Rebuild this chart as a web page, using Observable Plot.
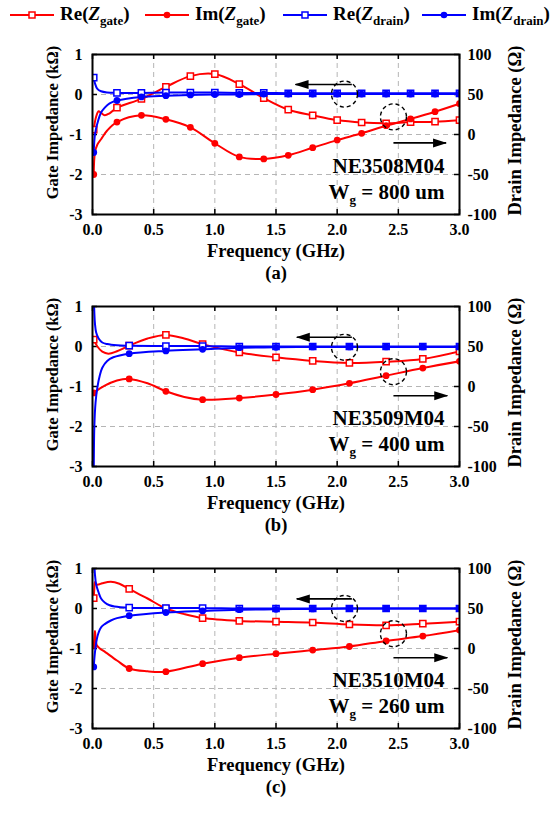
<!DOCTYPE html>
<html>
<head>
<meta charset="utf-8">
<script src="https://cdn.jsdelivr.net/npm/d3@7"></script>
<script src="https://cdn.jsdelivr.net/npm/@observablehq/plot@0.6"></script>
<style>
  html, body { margin: 0; padding: 0; background: #fff; }
  body { width: 554px; height: 813px; position: relative; overflow: hidden;
         font-family: "Liberation Serif", "Liberation Sans", Arial, sans-serif; font-weight: bold; color: #000; }
  #legend { position: absolute; top: 0; left: 0; width: 554px; height: 30px; }
  .item { position: absolute; top: 3px; height: 24px; display: flex; align-items: center; white-space: nowrap; }
  .item svg { display: block; flex: none; }
  .item .txt { font-size: 19px; line-height: 24px; margin-left: 6px; }
  .item .z { font-style: italic; }
  .item .sub { font-size: 13px; position: relative; top: 5px; }
</style>
</head>
<body>
<div id="legend"></div>
<script>
// ---------------- data (left-axis units) ----------------
const xTicks = [0, 0.5, 1, 1.5, 2, 2.5, 3];
const xGrid = [0.5, 1, 1.5, 2, 2.5];
const yTicks = [-3, -2, -1, 0, 1];
const yGrid = [-2, -1, 0];

const seriesNames = ["Re", "Im", "Re", "Im"];
const seriesSubs = ["gate", "gate", "drain", "drain"];
const RED = "#ff0000", BLUE = "#0000ff";

// Panel (a) NE3508M04
const aMarkers = [0.01, 0.2, 0.4, 0.6, 0.8, 1.0, 1.2, 1.4, 1.6, 1.8, 2.0, 2.2, 2.4, 2.6, 2.8, 3.0];
const aReGate = [[0.01,-0.88],[0.03,-0.55],[0.05,-0.42],[0.07,-0.46],[0.1,-0.52],[0.14,-0.47],[0.2,-0.33],[0.4,-0.11],[0.6,0.19],[0.8,0.46],[1.0,0.51],[1.2,0.26],[1.4,-0.09],[1.6,-0.38],[1.8,-0.52],[2.0,-0.64],[2.2,-0.70],[2.4,-0.72],[2.6,-0.69],[2.8,-0.68],[3.0,-0.64]];
const aImGate = [[0.01,-2.0],[0.02,-1.45],[0.04,-1.25],[0.07,-1.12],[0.12,-0.9],[0.2,-0.69],[0.4,-0.52],[0.6,-0.62],[0.8,-0.82],[1.0,-1.22],[1.2,-1.56],[1.4,-1.61],[1.6,-1.52],[1.8,-1.33],[2.0,-1.14],[2.2,-0.97],[2.4,-0.78],[2.6,-0.61],[2.8,-0.43],[3.0,-0.23]];
const aReDrain = [[0.01,0.42],[0.02,0.28],[0.04,0.14],[0.07,0.08],[0.12,0.05],[0.2,0.04],[0.4,0.04],[0.6,0.05],[0.8,0.05],[1.0,0.05],[1.2,0.04],[1.4,0.04],[1.6,0.03],[1.8,0.03],[2.0,0.03],[2.2,0.03],[2.4,0.03],[2.6,0.03],[2.8,0.03],[3.0,0.03]];
const aImDrain = [[0.01,-1.45],[0.02,-1.0],[0.04,-0.72],[0.07,-0.45],[0.1,-0.33],[0.14,-0.22],[0.2,-0.15],[0.4,-0.06],[0.6,-0.03],[0.8,-0.01],[1.0,0.0],[1.2,0.0],[1.4,0.01],[1.6,0.01],[1.8,0.01],[2.0,0.01],[2.2,0.01],[2.4,0.01],[2.6,0.01],[2.8,0.01],[3.0,0.01]];
const aCircles = [[2.06, 0.01], [2.46, -0.56]];
const aArrows = [[2.12, 0.25, 1.66, 0.25], [2.46, -1.21, 2.89, -1.21]];
const aNote = ["NE3508M04", "Wg = 800 um"];

// Panel (b) NE3509M04
const bMarkers = [0.01, 0.3, 0.6, 0.9, 1.2, 1.5, 1.8, 2.1, 2.4, 2.7, 3.0];
const bReGate = [[0.01,0.17],[0.04,0.0],[0.08,-0.13],[0.13,-0.18],[0.2,-0.12],[0.3,0.02],[0.45,0.2],[0.6,0.29],[0.75,0.2],[0.9,0.06],[1.2,-0.15],[1.5,-0.27],[1.8,-0.36],[2.1,-0.41],[2.4,-0.38],[2.7,-0.31],[3.0,-0.12]];
const bImGate = [[0.01,-1.16],[0.1,-0.98],[0.2,-0.85],[0.3,-0.81],[0.45,-0.92],[0.6,-1.12],[0.75,-1.26],[0.9,-1.33],[1.2,-1.29],[1.5,-1.2],[1.8,-1.08],[2.1,-0.92],[2.4,-0.73],[2.7,-0.54],[3.0,-0.37]];
const bReDrain = [[0.01,1.4],[0.015,0.85],[0.02,0.57],[0.03,0.35],[0.05,0.2],[0.08,0.1],[0.12,0.06],[0.2,0.03],[0.3,0.02],[0.6,0.01],[0.9,0.01],[1.2,0.0],[1.5,0.0],[1.8,0.0],[2.1,0.0],[2.4,0.0],[2.7,0.0],[3.0,0.0]];
const bImDrain = [[0.01,-3.3],[0.015,-2.0],[0.025,-1.4],[0.04,-1.02],[0.06,-0.72],[0.08,-0.53],[0.12,-0.36],[0.17,-0.27],[0.3,-0.18],[0.6,-0.11],[0.9,-0.07],[1.2,-0.03],[1.5,-0.02],[1.8,-0.01],[2.1,-0.01],[2.4,-0.01],[2.7,-0.01],[3.0,-0.01]];
const bCircles = [[2.06, -0.02], [2.46, -0.63]];
const bArrows = [[2.12, 0.23, 1.67, 0.23], [2.46, -1.23, 2.9, -1.23]];
const bNote = ["NE3509M04", "Wg = 400 um"];

// Panel (c) NE3510M04
const cMarkers = [0.01, 0.3, 0.6, 0.9, 1.2, 1.5, 1.8, 2.1, 2.4, 2.7, 3.0];
const cReGate = [[0.01,0.26],[0.015,0.5],[0.02,0.66],[0.03,0.6],[0.05,0.6],[0.08,0.63],[0.15,0.67],[0.22,0.62],[0.3,0.49],[0.45,0.25],[0.6,0.0],[0.75,-0.14],[0.9,-0.24],[1.2,-0.31],[1.5,-0.33],[1.8,-0.35],[2.1,-0.40],[2.4,-0.42],[2.7,-0.38],[3.0,-0.33]];
const cImGate = [[0.01,-0.92],[0.015,-0.75],[0.02,-0.56],[0.025,-0.72],[0.035,-0.92],[0.06,-1.0],[0.09,-1.06],[0.2,-1.3],[0.3,-1.5],[0.45,-1.57],[0.6,-1.58],[0.9,-1.38],[1.2,-1.23],[1.5,-1.13],[1.8,-1.04],[2.1,-0.95],[2.4,-0.81],[2.7,-0.69],[3.0,-0.54]];
const cReDrain = [[0.01,1.5],[0.02,0.85],[0.03,0.6],[0.05,0.4],[0.07,0.25],[0.1,0.15],[0.14,0.08],[0.18,0.05],[0.3,0.02],[0.6,0.01],[0.9,0.01],[1.2,0.0],[1.5,0.0],[1.8,0.0],[2.1,0.0],[2.4,0.0],[2.7,0.0],[3.0,0.0]];
const cImDrain = [[0.01,-1.46],[0.02,-1.1],[0.035,-0.77],[0.05,-0.6],[0.07,-0.47],[0.1,-0.39],[0.15,-0.3],[0.2,-0.24],[0.3,-0.18],[0.6,-0.1],[0.9,-0.06],[1.2,-0.03],[1.5,-0.02],[1.8,-0.01],[2.1,0.0],[2.4,0.0],[2.7,0.0],[3.0,0.0]];
const cCircles = [[2.06, 0.0], [2.46, -0.63]];
const cArrows = [[2.12, 0.24, 1.67, 0.24], [2.46, -1.23, 2.9, -1.23]];
const cNote = ["NE3510M04", "Wg = 260 um"];

// ---------------- legend ----------------
const legend = document.getElementById("legend");
const legendLeft = [10, 145, 283, 422];
const legendColor = [RED, RED, BLUE, BLUE];
const legendSym = ["square", "circle", "square", "circle"];
seriesNames.forEach((nm, i) => {
  const it = document.createElement("div");
  it.className = "item";
  it.style.left = legendLeft[i] + "px";
  const c = legendColor[i];
  const sym = legendSym[i] === "square"
    ? `<rect x="19" y="9" width="6" height="6" fill="white" stroke="${c}" stroke-width="1.5"/>`
    : `<circle cx="22" cy="12" r="3.3" fill="${c}"/>`;
  it.innerHTML = `<svg width="44" height="24"><line x1="0" x2="44" y1="12" y2="12" stroke="${c}" stroke-width="2"/>${sym}</svg>` +
    `<span class="txt">${nm}(<span class="z">Z</span><span class="sub">${seriesSubs[i]}</span>)</span>`;
  legend.appendChild(it);
});

// ---------------- panels ----------------
function arrowHead(color, context) {
  const doc = (context && context.document) || document;
  const ns = "http://www.w3.org/2000/svg";
  const m = doc.createElementNS(ns, "marker");
  m.setAttribute("viewBox", "-13 -5 14 10");
  m.setAttribute("markerWidth", "14");
  m.setAttribute("markerHeight", "10");
  m.setAttribute("markerUnits", "userSpaceOnUse");
  m.setAttribute("orient", "auto");
  m.setAttribute("refX", "0");
  m.setAttribute("refY", "0");
  const p = doc.createElementNS(ns, "path");
  p.setAttribute("d", "M-13,-4.5L1,0L-13,4.5Z");
  p.setAttribute("fill", color);
  p.setAttribute("stroke", "none");
  m.appendChild(p);
  return m;
}

const W = 554, ML = 92, MR = 95, MT = 20, FH = 160, MB = 81;
const FW = W - ML - MR;
const FONT = "'Liberation Serif', 'Liberation Sans', Arial, sans-serif";

function panel(cfg) {
  const sel = s => s.filter(d => cfg.markers.some(m => Math.abs(m - d[0]) < 1e-9));
  const X = d => d[0], Y = d => d[1];
  const line = (data, color) => Plot.line(data, {x: X, y: Y, stroke: color, strokeWidth: 2, curve: "catmull-rom", clip: true});
  const sq = (data, color) => Plot.dot(sel(data), {x: X, y: Y, symbol: "square", r: 3.5, stroke: color, fill: "white", strokeWidth: 1.5, clip: true});
  const ci = (data, color) => Plot.dot(sel(data), {x: X, y: Y, symbol: "circle", r: 3.4, fill: color, stroke: "none", clip: true});
  const txt = {fontFamily: FONT, fontWeight: "bold", fill: "black"};
  const svg = Plot.plot({
    width: W, height: MT + FH + MB,
    marginLeft: ML, marginRight: MR, marginTop: MT, marginBottom: MB,
    x: {domain: [0, 3]},
    y: {domain: [-3, 1]},
    style: {background: "white", overflow: "visible", fontFamily: FONT},
    marks: [
      Plot.gridX({ticks: xGrid, stroke: "#b5b5b5", strokeOpacity: 1, strokeWidth: 1, strokeDasharray: "5,4"}),
      Plot.gridY({ticks: yGrid, stroke: "#b5b5b5", strokeOpacity: 1, strokeWidth: 1, strokeDasharray: "5,4"}),
      // inward ticks on all four sides
      Plot.tickX(xTicks, {x: d => d, stroke: "black", strokeWidth: 1.5, insetTop: FH - 5}),
      Plot.tickX(xTicks, {x: d => d, stroke: "black", strokeWidth: 1.5, insetBottom: FH - 5}),
      Plot.tickY(yTicks, {y: d => d, stroke: "black", strokeWidth: 1.5, insetRight: FW - 5}),
      Plot.tickY(yTicks, {y: d => d, stroke: "black", strokeWidth: 1.5, insetLeft: FW - 5}),
      line(cfg.reGate, RED), sq(cfg.reGate, RED),
      line(cfg.imGate, RED), ci(cfg.imGate, RED),
      line(cfg.reDrain, BLUE), sq(cfg.reDrain, BLUE),
      line(cfg.imDrain, BLUE), ci(cfg.imDrain, BLUE),
      Plot.dot(cfg.circles, {x: X, y: Y, r: 13, stroke: "black", fill: "none", strokeWidth: 1.4, strokeDasharray: "4,3"}),
      Plot.link(cfg.arrows, {x1: d => d[0], y1: d => d[1], x2: d => d[2], y2: d => d[3], stroke: "black", strokeWidth: 1.6, markerEnd: arrowHead}),
      Plot.text([cfg.note[0]], {...txt, frameAnchor: "bottom-right", textAnchor: "end", lineAnchor: "middle", dx: -15, dy: -48, fontSize: 21}),
      Plot.text([cfg.note[1]], {...txt, frameAnchor: "bottom-right", textAnchor: "end", lineAnchor: "middle", dx: -15, dy: -22, fontSize: 21}),
      Plot.frame({stroke: "black", strokeWidth: 2}),
      Plot.axisX({ticks: xTicks, anchor: "bottom", tickSize: 0, tickPadding: 9, tickFormat: d3.format(".1f"), label: null, ...txt, fontSize: 16}),
      Plot.axisY({ticks: yTicks, anchor: "left", tickSize: 0, tickPadding: 10, tickFormat: d => String(d), label: null, ...txt, fontSize: 16}),
      Plot.axisY({ticks: yTicks, anchor: "right", tickSize: 0, tickPadding: 8, tickFormat: d => String(50 * (d + 1)), label: null, ...txt, fontSize: 16}),
      Plot.text(["Gate Impedance (kΩ)"], {...txt, frameAnchor: "left", textAnchor: "middle", lineAnchor: "middle", rotate: -90, dx: -40, dy: -12, fontSize: 16.5}),
      Plot.text(["Drain Impedance (Ω)"], {...txt, frameAnchor: "right", textAnchor: "middle", lineAnchor: "middle", rotate: -90, dx: 56, dy: -4, fontSize: 18.5}),
      Plot.text(["Frequency (GHz)"], {...txt, frameAnchor: "bottom", textAnchor: "middle", lineAnchor: "middle", dy: 37, fontSize: 18.5}),
      Plot.text([cfg.caption], {...txt, frameAnchor: "bottom", textAnchor: "middle", lineAnchor: "middle", dy: 59, fontSize: 18.5})
    ]
  });
  // subscript g in "Wg"
  const ns = "http://www.w3.org/2000/svg";
  svg.querySelectorAll("text").forEach(t => {
    if (t.childElementCount === 0 && /^Wg /.test(t.textContent)) {
      const rest = t.textContent.slice(2);
      t.textContent = "";
      const a = document.createElementNS(ns, "tspan"); a.textContent = "W";
      const b = document.createElementNS(ns, "tspan"); b.textContent = "g"; b.setAttribute("font-size", "13"); b.setAttribute("dy", "5");
      const c = document.createElementNS(ns, "tspan"); c.textContent = rest; c.setAttribute("dy", "-5");
      t.append(a, b, c);
    }
  });
  svg.style.position = "absolute";
  svg.style.left = "0px";
  svg.style.top = cfg.top + "px";
  document.body.appendChild(svg);
}

panel({top: 34, markers: aMarkers, reGate: aReGate, imGate: aImGate, reDrain: aReDrain, imDrain: aImDrain, circles: aCircles, arrows: aArrows, note: aNote, caption: "(a)"});
panel({top: 286, markers: bMarkers, reGate: bReGate, imGate: bImGate, reDrain: bReDrain, imDrain: bImDrain, circles: bCircles, arrows: bArrows, note: bNote, caption: "(b)"});
panel({top: 548, markers: cMarkers, reGate: cReGate, imGate: cImGate, reDrain: cReDrain, imDrain: cImDrain, circles: cCircles, arrows: cArrows, note: cNote, caption: "(c)"});
</script>
</body>
</html>
